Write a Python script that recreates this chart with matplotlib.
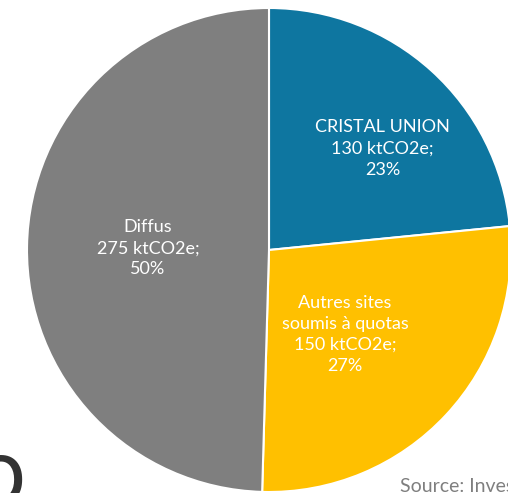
import numpy as np
import matplotlib
matplotlib.use("Agg")
from matplotlib import pyplot as plt

# data
categories = ["CRISTAL UNION", "Autres sites\nsoumis à quotas", "Diffus"]
emissions = [130, 150, 275]          # ktCO2e
shares = [23, 27, 50]                # % as printed
colors = ["#0E76A0", "#FFC000", "#7F7F7F"]

W, H = 508, 493
fig = plt.figure(figsize=(W / 100, H / 100), dpi=100)

# pie centre (269, 250) px, radius 242 px
cx, cy, r = 269, 250, 242
ax = fig.add_axes([(cx - r) / W, (H - cy - r) / H, 2 * r / W, 2 * r / H])

wedges, _ = ax.pie(emissions, colors=colors, startangle=90, counterclock=False,
                   wedgeprops=dict(edgecolor="white", linewidth=1.5))
ax.set_xlim(-1, 1)
ax.set_ylim(-1, 1)
ax.set_aspect("equal")
ax.axis("off")

# label placement: distance from centre and angle nudge
label_dist = [0.63, 0.47, 0.50]
label_nudge = [-6, -5, 0]
for w, cat, val, pct, d, nd in zip(wedges, categories, emissions, shares, label_dist, label_nudge):
    ang = np.deg2rad((w.theta1 + w.theta2) / 2 + nd)
    ax.text(d * np.cos(ang), d * np.sin(ang), f"{cat}\n{val} ktCO2e;\n{pct}%",
            ha="center", va="center", color="white", fontsize=13,
            family="Lato", linespacing=1.4)

fig.text(400 / W, 1 - 478 / H, "Source: Investigate", ha="left", va="top",
         color="#7F7F7F", fontsize=14, family="Lato")
fig.text(0, 1 - 503 / H, "o", ha="center", va="baseline",
         color="#333333", fontsize=61, family="DejaVu Sans")

fig.savefig("out.png", dpi=100)
